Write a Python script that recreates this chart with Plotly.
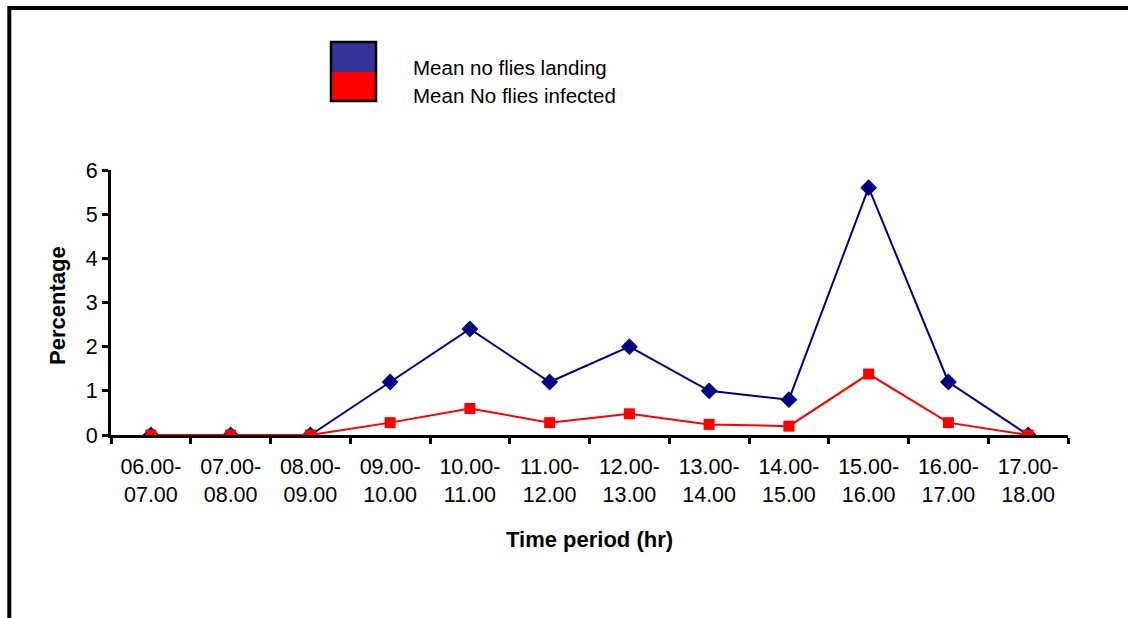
import plotly.graph_objects as go

categories = ["06.00-<br>07.00", "07.00-<br>08.00", "08.00-<br>09.00", "09.00-<br>10.00",
              "10.00-<br>11.00", "11.00-<br>12.00", "12.00-<br>13.00", "13.00-<br>14.00",
              "14.00-<br>15.00", "15.00-<br>16.00", "16.00-<br>17.00", "17.00-<br>18.00"]
mean_landing = [0, 0, 0, 1.2, 2.4, 1.2, 2.0, 1.0, 0.8, 5.6, 1.2, 0]
mean_infected = [0, 0, 0, 0.28, 0.6, 0.28, 0.48, 0.24, 0.2, 1.38, 0.28, 0]
y_ticks = [0, 1, 2, 3, 4, 5, 6]
series_names = ["Mean no flies landing", "Mean No flies infected"]

W, H = 1128, 618
L, R, T, B = 111, 60, 170, 183
PW, PH = W - L - R, H - T - B

def px(x):
    return (x - L) / PW

def py(y):
    return (H - B - y) / PH

FONT = "Liberation Sans, Arial, sans-serif"

fig = go.Figure()
fig.add_trace(go.Scatter(x=categories, y=mean_landing, mode="lines+markers",
                         name=series_names[0],
                         line=dict(color="#000080", width=2),
                         marker=dict(symbol="diamond", size=13, color="#000080")))
fig.add_trace(go.Scatter(x=categories, y=mean_infected, mode="lines+markers",
                         name=series_names[1],
                         line=dict(color="#FF0000", width=2),
                         marker=dict(symbol="square", size=11, color="#FF0000")))

shapes = [
    # outer frame
    dict(type="rect", xref="paper", yref="paper", x0=px(9.3), x1=px(1200), y0=py(700), y1=py(8),
         line=dict(color="black", width=4), fillcolor="rgba(0,0,0,0)", layer="below"),
    # legend boxes
    dict(type="rect", xref="paper", yref="paper", x0=px(331), x1=px(376), y0=py(72), y1=py(42),
         line=dict(width=0), fillcolor="#333399"),
    dict(type="rect", xref="paper", yref="paper", x0=px(331), x1=px(376), y0=py(101), y1=py(72),
         line=dict(width=0), fillcolor="#FF0000"),
    dict(type="rect", xref="paper", yref="paper", x0=px(331), x1=px(376), y0=py(101), y1=py(42),
         line=dict(color="black", width=2.5), fillcolor="rgba(0,0,0,0)"),
]

annotations = [
    dict(text=series_names[0], xref="paper", yref="paper", x=px(411), y=py(67),
         xanchor="left", yanchor="middle", showarrow=False, font=dict(size=20.5, color="black", family=FONT)),
    dict(text=series_names[1], xref="paper", yref="paper", x=px(411), y=py(95),
         xanchor="left", yanchor="middle", showarrow=False, font=dict(size=20.5, color="black", family=FONT)),
    dict(text="<b>Time period (hr)</b>", xref="paper", yref="paper", x=px(589), y=py(539),
         xanchor="center", yanchor="middle", showarrow=False, font=dict(size=22, color="black", family=FONT)),
    dict(text="<b>Percentage</b>", xref="paper", yref="paper", x=px(57), y=py(306),
         xanchor="center", yanchor="middle", textangle=-90, showarrow=False,
         font=dict(size=22, color="black", family=FONT)),
]

fig.update_layout(
    width=W, height=H,
    margin=dict(l=L, r=R, t=T, b=B),
    paper_bgcolor="white", plot_bgcolor="white",
    showlegend=False,
    font=dict(family=FONT, size=21, color="black"),
    shapes=shapes, annotations=annotations,
)
fig.update_xaxes(type="category", range=[-0.5, 11.5], tickson="boundaries",
                 showline=True, linecolor="black", linewidth=3,
                 ticks="outside", ticklen=6, tickwidth=2.5, tickcolor="black",
                 ticklabelstandoff=10,
                 showgrid=False, zeroline=False, tickfont=dict(size=21.5))
fig.update_yaxes(range=[0, 6], tickvals=y_ticks,
                 showline=True, linecolor="black", linewidth=3,
                 ticks="outside", ticklen=6, tickwidth=2.5, tickcolor="black",
                 showgrid=False, zeroline=False, tickfont=dict(size=21.5))

fig.write_html("out.html",
               config={"displayModeBar": False},
               post_script="document.body.style.margin='0';document.body.style.overflow='hidden';")
